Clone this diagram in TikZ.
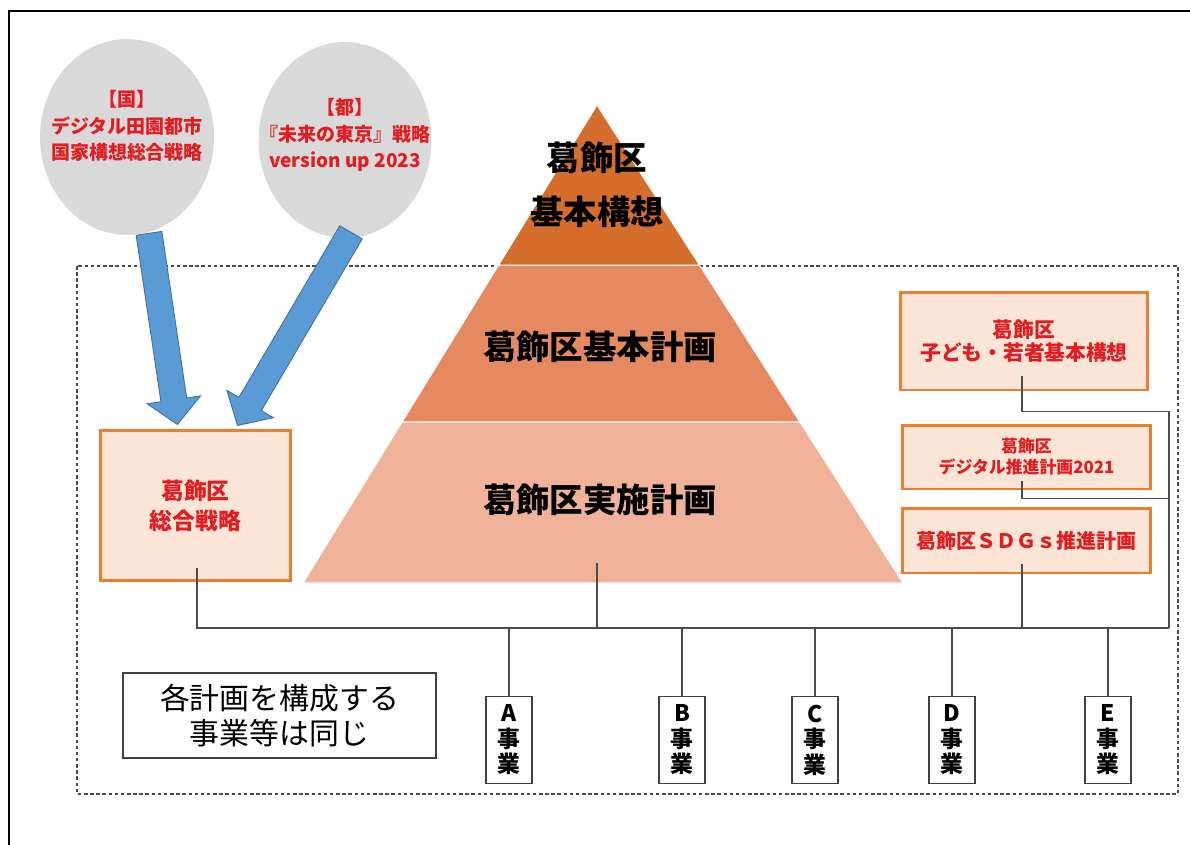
\documentclass[tikz,border=0pt]{standalone}
\usepackage{fontspec}
\setmainfont{Noto Sans CJK JP}
\usetikzlibrary{calc,shapes.geometric}
\definecolor{kred}{RGB}{226,28,33}
\definecolor{circlegray}{RGB}{217,217,217}
\definecolor{arrowblue}{RGB}{91,155,213}
\definecolor{arrowedge}{RGB}{65,113,156}
\definecolor{boxorange}{RGB}{237,125,49}
\definecolor{boxfill}{RGB}{251,229,214}
\definecolor{pyrtop}{RGB}{213,110,45}
\definecolor{pyrmid}{RGB}{229,138,96}
\definecolor{pyrbot}{RGB}{240,178,152}

% block arrow from #1 to #2
\newcommand{\blockarrow}[2]{%
  \coordinate (ba-h) at ($(#2)!0.5cm!(#1)$);
  \draw[bluearrow] ($(#1)!0.26cm!90:(#2)$) -- ($(ba-h)!0.26cm!90:(#2)$) -- ($(ba-h)!0.54cm!90:(#2)$) -- (#2)
    -- ($(ba-h)!0.54cm!-90:(#2)$) -- ($(ba-h)!0.26cm!-90:(#2)$) -- ($(#1)!0.26cm!-90:(#2)$) -- cycle;}

\begin{document}
\begin{tikzpicture}[x=0.02cm, y=-0.02cm,
    planbox/.style={draw=boxorange, line width=1.7pt, fill=boxfill, text=kred, align=center, inner sep=0pt},
    redtext/.style={text=kred, align=center, font=\bfseries\fontsize{10.8}{15}\selectfont},
    pyrtext/.style={align=center, font=\bfseries\fontsize{19}{31}\selectfont},
    jigyo/.style={draw=black!75, line width=0.8pt, fill=white, minimum width=0.92cm, minimum height=1.74cm,
      align=center, inner sep=0pt, font=\bfseries\fontsize{13}{14.5}\selectfont},
    conn/.style={draw=black!70, line width=0.8pt},
    bluearrow/.style={fill=arrowblue, draw=arrowedge, line width=0.5pt}]

    \useasboundingbox (0,0) rectangle (1190,845);

    % frame
    \draw[line width=1.2pt] (9,845) -- (9,11) -- (1190,11);
    \draw[black!70, line width=0.6pt, dash pattern=on 2pt off 1.5pt] (77,266) rectangle (1178,794);

    % pyramid
    \coordinate (apex) at (597,105);
    \coordinate (bl) at (303,583);
    \coordinate (br) at (903,583);
    \coordinate (l1) at ($(apex)!0.335!(bl)$);
    \coordinate (r1) at ($(apex)!0.335!(br)$);
    \coordinate (l2) at ($(apex)!0.663!(bl)$);
    \coordinate (r2) at ($(apex)!0.663!(br)$);
    \filldraw[fill=pyrbot, draw=white, line width=0.6pt] (bl) -- (l2) -- (r2) -- (br) -- cycle;
    \filldraw[fill=pyrmid, draw=white, line width=0.6pt] (l2) -- (l1) -- (r1) -- (r2) -- cycle;
    \filldraw[fill=pyrtop, draw=white, line width=0.6pt] (l1) -- (apex) -- (r1) -- cycle;

    \node[pyrtext] (kousou) at (597,185) {葛飾区\\基本構想};
    \node[pyrtext] (kihon) at (600,347) {葛飾区基本計画};
    \node[pyrtext] (jisshi) at (600,500) {葛飾区実施計画};
    \coordinate (jisshi-in) at (597,563);

    % national and metropolitan plans
    \node[ellipse, fill=circlegray, minimum width=3.48cm, minimum height=3.92cm] (kuni) at (127,137) {};
    \node[redtext] at (127,126) {【国】\\デジタル田園都市\\国家構想総合戦略};
    \node[ellipse, fill=circlegray, minimum width=3.46cm, minimum height=3.92cm] (toshi) at (345,140) {};
    \node[redtext] at (345,135) {【都】\\『未来の東京』戦略\\version up 2023};

    % ward plans
    \node[planbox, minimum width=3.82cm, minimum height=3.02cm, font=\bfseries\fontsize{13}{17}\selectfont]
      (senryaku) at (195.5,505.5) {葛飾区\\総合戦略};
    \node[planbox, minimum width=4.96cm, minimum height=1.96cm, font=\bfseries\fontsize{11.8}{13}\selectfont]
      (kodomo) at (1024,341) {葛飾区\\子ども・若者基本構想};
    \node[planbox, minimum width=4.98cm, minimum height=1.28cm, font=\bfseries\fontsize{9.6}{12}\selectfont]
      (digital) at (1026.5,457) {葛飾区\\デジタル推進計画2021};
    \node[planbox, minimum width=4.98cm, minimum height=1.30cm, font=\bfseries\fontsize{11.4}{13}\selectfont]
      (sdgs) at (1026.5,540.5) {葛飾区ＳＤＧｓ推進計画};

    % arrows
    \coordinate (kuni-out) at ($(kuni.south)+(22,-2)$);
    \coordinate (toshi-out) at ($(toshi.south)+(6,-6)$);
    \coordinate (senryaku-a) at ($(senryaku.north)+(-18,-4)$);
    \coordinate (senryaku-b) at ($(senryaku.north)+(42,-3)$);
    \blockarrow{kuni-out}{senryaku-a}
    \blockarrow{toshi-out}{senryaku-b}

    % projects
    \node[draw=black!75, line width=0.8pt, minimum width=6.26cm, minimum height=1.7cm, align=center,
      font=\fontsize{17}{20}\selectfont] (note) at (279.5,715.5) {各計画を構成する\\事業等は同じ};
    \foreach \n/\x in {A/509,B/682,C/815,D/952,E/1108}
      \node[jigyo] (j\n) at (\x,740) {\n\\事\\業};

    % connections
    \coordinate (senryaku-in) at ($(senryaku.south)+(1.5,-14)$);
    \coordinate (kodomo-in) at ($(kodomo.south)+(-2,-15)$);
    \coordinate (digital-in) at ($(digital.south)+(-4.5,-9)$);
    \coordinate (sdgs-in) at ($(sdgs.south)+(-4.5,-10)$);
    \coordinate (bus-r) at (1169,628);

    \draw[conn] (senryaku-in) |- (bus-r);
    \draw[conn] (jisshi-in) -- (jisshi-in |- bus-r);
    \draw[conn] (kodomo-in) -- ++(0,35) -| (bus-r);
    \draw[conn] (digital-in) -- ++(0,17) -| (bus-r);
    \draw[conn] (sdgs-in) -- (sdgs-in |- bus-r);
    \foreach \j in {jA,jB,jC,jD,jE}
      \draw[conn] (\j) -- (\j |- bus-r);

\end{tikzpicture}
\end{document}
